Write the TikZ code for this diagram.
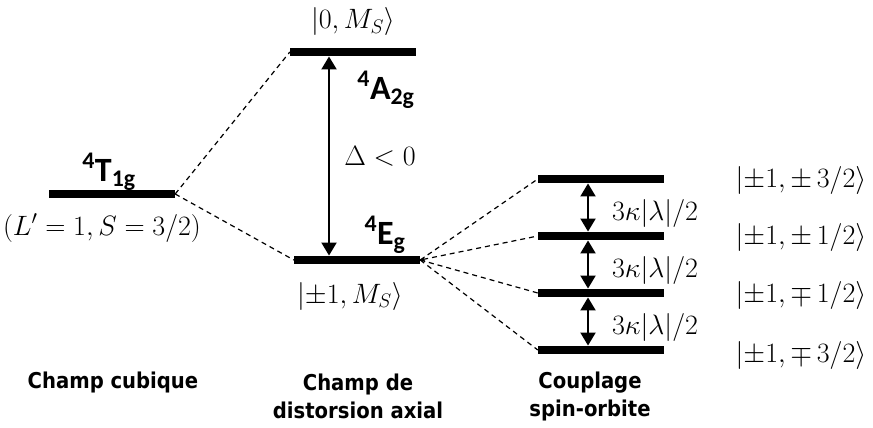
\RequirePackage{fix-cm}
\documentclass[tikz,border=0pt]{standalone}
\usepackage{amsmath}
\usepackage{amssymb}
\usepackage{fontspec}
\setmainfont{Carlito}
\newfontfamily\captionfont{DejaVu Sans Condensed}
\usepackage{tikz}
\usetikzlibrary{arrows.meta,positioning}

\begin{document}
\begin{tikzpicture}[x=1pt, y=-1pt,
      level/.style={fill=black, inner sep=0pt, minimum width=126pt, minimum height=8.5pt},
      term/.style={font=\fontsize{34}{36}\selectfont\bfseries, inner sep=0pt},
      ket/.style={font=\fontsize{28}{30}\selectfont, inner sep=0pt},
      caption/.style={font=\captionfont\bfseries\fontsize{21.8}{28}\selectfont, align=center, inner sep=0pt},
      link/.style={draw, dash pattern=on 5pt off 4pt, line width=1.2pt},
      gap/.style={draw, {Triangle[length=13pt,width=15pt]}-{Triangle[length=13pt,width=15pt]}, line width=2pt}]
      \useasboundingbox (0,0) rectangle (873,428);

      % Levels
      \node [level] (t1g) at (112,194) {};
      \node [level] (a2g) at (353,52) {};
      \node [level] (eg) at (357,260) {};
      \node [level] (so1) at (601,179) {};
      \node [level] (so2) at (601,236) {};
      \node [level] (so3) at (601,293) {};
      \node [level] (so4) at (601,350) {};
      \coordinate (ax) at (329,0);
      \coordinate (bx) at (588,0);

      % Edges
      \path [link] (t1g.east) -- (a2g.west);
      \path [link] (t1g.east) -- (eg.west);
      \path [link] (eg.east) -- (so1.west);
      \path [link, {Stealth[length=5pt,width=5pt]}-] (eg.east) -- (so2.west);
      \path [link] (eg.east) -- (so3.west);
      \path [link] (eg.east) -- (so4.west);
      \path [gap] (a2g.south -| ax) -- (eg.north -| ax);
      \path [gap] (so1.south -| bx) -- (so2.north -| bx);
      \path [gap] (so2.south -| bx) -- (so3.north -| bx);
      \path [gap] (so3.south -| bx) -- (so4.north -| bx);

      % Annotations
      \node [term] (t1g-lbl) at (109,172) {\textsuperscript{4}T\textsubscript{1g}};
      \node [ket] (t1g-ket) at (102,228) {$(L'=1,S=3/2)$};
      \node [ket] (a2g-ket) at (353,22) {$|0,M_S\rangle$};
      \node [term] (a2g-lbl) at (386,90) {\textsuperscript{4}A\textsubscript{2g}};
      \node [ket] (delta) at (380,156) {$\Delta<0$};
      \node [term] (eg-lbl) at (385,235) {\textsuperscript{4}E\textsubscript{g}};
      \node [ket] (eg-ket) at (350,296) {$|{\pm}1,M_S\rangle$};
      \node [ket] (split1) at (655,213) {$3\kappa|\lambda|/2$};
      \node [ket] (split2) at (655,270) {$3\kappa|\lambda|/2$};
      \node [ket] (split3) at (655,327) {$3\kappa|\lambda|/2$};
      \node [ket] (so1-ket) at (801,180) {$|{\pm}1,\pm\,3/2\rangle$};
      \node [ket] (so2-ket) at (801,237) {$|{\pm}1,\pm\,1/2\rangle$};
      \node [ket] (so3-ket) at (801,295) {$|{\pm}1,\mp\,1/2\rangle$};
      \node [ket] (so4-ket) at (801,355) {$|{\pm}1,\mp\,3/2\rangle$};
      \node [caption] (cubic) at (113,382) {Champ cubique};
      \node [caption] (axial) at (358,396) {Champ de\\distorsion axial};
      \node [caption] (spinorb) at (590,396) {Couplage\\spin-orbite};

    \end{tikzpicture}
\end{document}
